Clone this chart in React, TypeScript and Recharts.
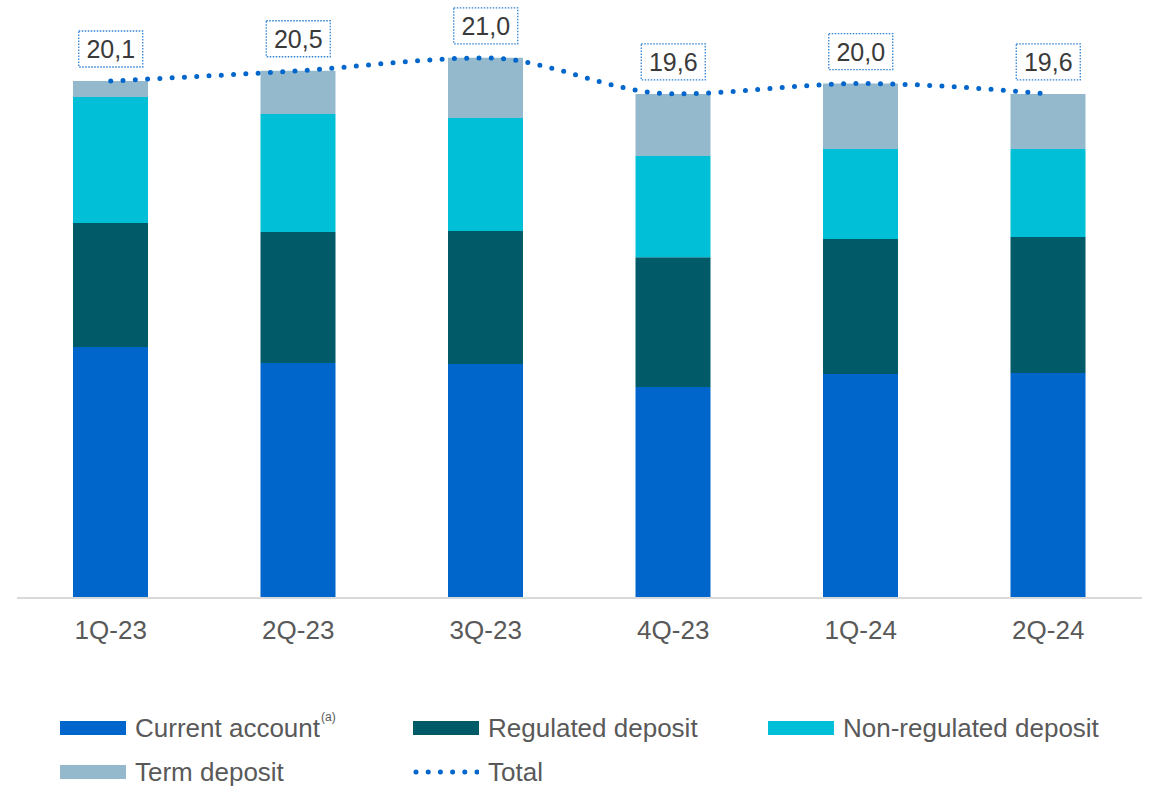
import React from "react";
import { ComposedChart, Bar, Line, XAxis, YAxis } from "recharts";

const categories = ["1Q-23", "2Q-23", "3Q-23", "4Q-23", "1Q-24", "2Q-24"];
const currentAccount = [9.76, 9.14, 9.1, 8.2, 8.71, 8.75];
const regulatedDeposit = [4.82, 5.09, 5.17, 5.05, 5.25, 5.29];
const nonRegulatedDeposit = [4.9, 4.59, 4.39, 3.93, 3.5, 3.42];
const termDeposit = [0.62, 1.68, 2.34, 2.42, 2.54, 2.14];
const totals = [20.1, 20.5, 21.0, 19.6, 20.0, 19.6];

const COLORS = {
  current: "#0066CC",
  regulated: "#005A68",
  nonRegulated: "#00BFD6",
  term: "#95B9CC",
  total: "#0066CC",
};

const data = categories.map((c, i) => ({
  name: c,
  current: currentAccount[i],
  regulated: regulatedDeposit[i],
  nonRegulated: nonRegulatedDeposit[i],
  term: termDeposit[i],
  total: totals[i],
}));

const FONT = "'Liberation Sans', Arial, sans-serif";

const BoxLabel = (props: any) => {
  const { x, y, value } = props;
  if (x == null || y == null) return null;
  const w = 64;
  const h = 36;
  const bottom = y - 14;
  return (
    <g>
      <rect
        x={x - w / 2}
        y={bottom - h}
        width={w}
        height={h}
        fill="#ffffff"
        stroke="#2F80D2"
        strokeWidth={1.3}
        strokeDasharray="1.5 1.5"
      />
      <text
        x={x}
        y={bottom - h / 2}
        textAnchor="middle"
        dominantBaseline="central"
        fontSize={25}
        fontFamily={FONT}
        fill="#3A3A3A"
      >
        {Number(value).toFixed(1).replace(".", ",")}
      </text>
    </g>
  );
};

const legendItems = [
  { key: "current", label: "Current account", sup: "(a)", type: "rect", color: COLORS.current },
  { key: "regulated", label: "Regulated deposit", type: "rect", color: COLORS.regulated },
  { key: "nonRegulated", label: "Non-regulated deposit", type: "rect", color: COLORS.nonRegulated },
  { key: "term", label: "Term deposit", type: "rect", color: COLORS.term },
  { key: "total", label: "Total", type: "dots", color: COLORS.total },
];

const colX = [60, 413, 768];
const rowY = [728, 772];

const LegendBlock = () => (
  <div style={{ position: "absolute", left: 0, top: 0, width: 1160, height: 787, pointerEvents: "none" }}>
    {legendItems.map((it, i) => {
      const col = i % 3;
      const row = Math.floor(i / 3);
      return (
        <div
          key={it.key}
          style={{
            position: "absolute",
            left: colX[col],
            top: rowY[row] - 16,
            height: 32,
            display: "flex",
            alignItems: "center",
            fontFamily: FONT,
            fontSize: 26,
            color: "#595959",
            whiteSpace: "nowrap",
          }}
        >
          {it.type === "rect" ? (
            <div style={{ width: 66, height: 14, background: it.color, marginRight: 9 }} />
          ) : (
            <svg width={66} height={14} style={{ marginRight: 9 }}>
              <line
                x1={3}
                y1={7}
                x2={64}
                y2={7}
                stroke={it.color}
                strokeWidth={5}
                strokeLinecap="round"
                strokeDasharray="0 12.2"
              />
            </svg>
          )}
          <span>
            {it.label}
            {it.sup ? (
              <sup style={{ fontSize: 12, position: "relative", top: -6, marginLeft: 1 }}>{it.sup}</sup>
            ) : null}
          </span>
        </div>
      );
    })}
  </div>
);

export default function App() {
  return (
    <div style={{ position: "absolute", left: 0, top: 0, width: 1160, height: 787, background: "#ffffff" }}>
      <ComposedChart
        width={1160}
        height={787}
        data={data}
        margin={{ top: 0, right: 18, bottom: 129, left: 17 }}
        barSize={75}
      >
        <XAxis
          dataKey="name"
          axisLine={{ stroke: "#D9D9D9", strokeWidth: 2 }}
          tickLine={false}
          height={60}
          tickMargin={17}
          tick={{ fontSize: 26, fill: "#595959", fontFamily: FONT }}
        />
        <YAxis hide domain={[0, 23.25]} />
        <Bar dataKey="current" stackId="a" fill={COLORS.current} isAnimationActive={false} />
        <Bar dataKey="regulated" stackId="a" fill={COLORS.regulated} isAnimationActive={false} />
        <Bar dataKey="nonRegulated" stackId="a" fill={COLORS.nonRegulated} isAnimationActive={false} />
        <Bar dataKey="term" stackId="a" fill={COLORS.term} isAnimationActive={false} />
        <Line
          dataKey="total"
          type="monotone"
          stroke={COLORS.total}
          strokeWidth={5}
          strokeLinecap="round"
          strokeDasharray="0 12.3"
          dot={false}
          activeDot={false}
          label={<BoxLabel />}
          isAnimationActive={false}
        />
      </ComposedChart>
      <LegendBlock />
    </div>
  );
}
